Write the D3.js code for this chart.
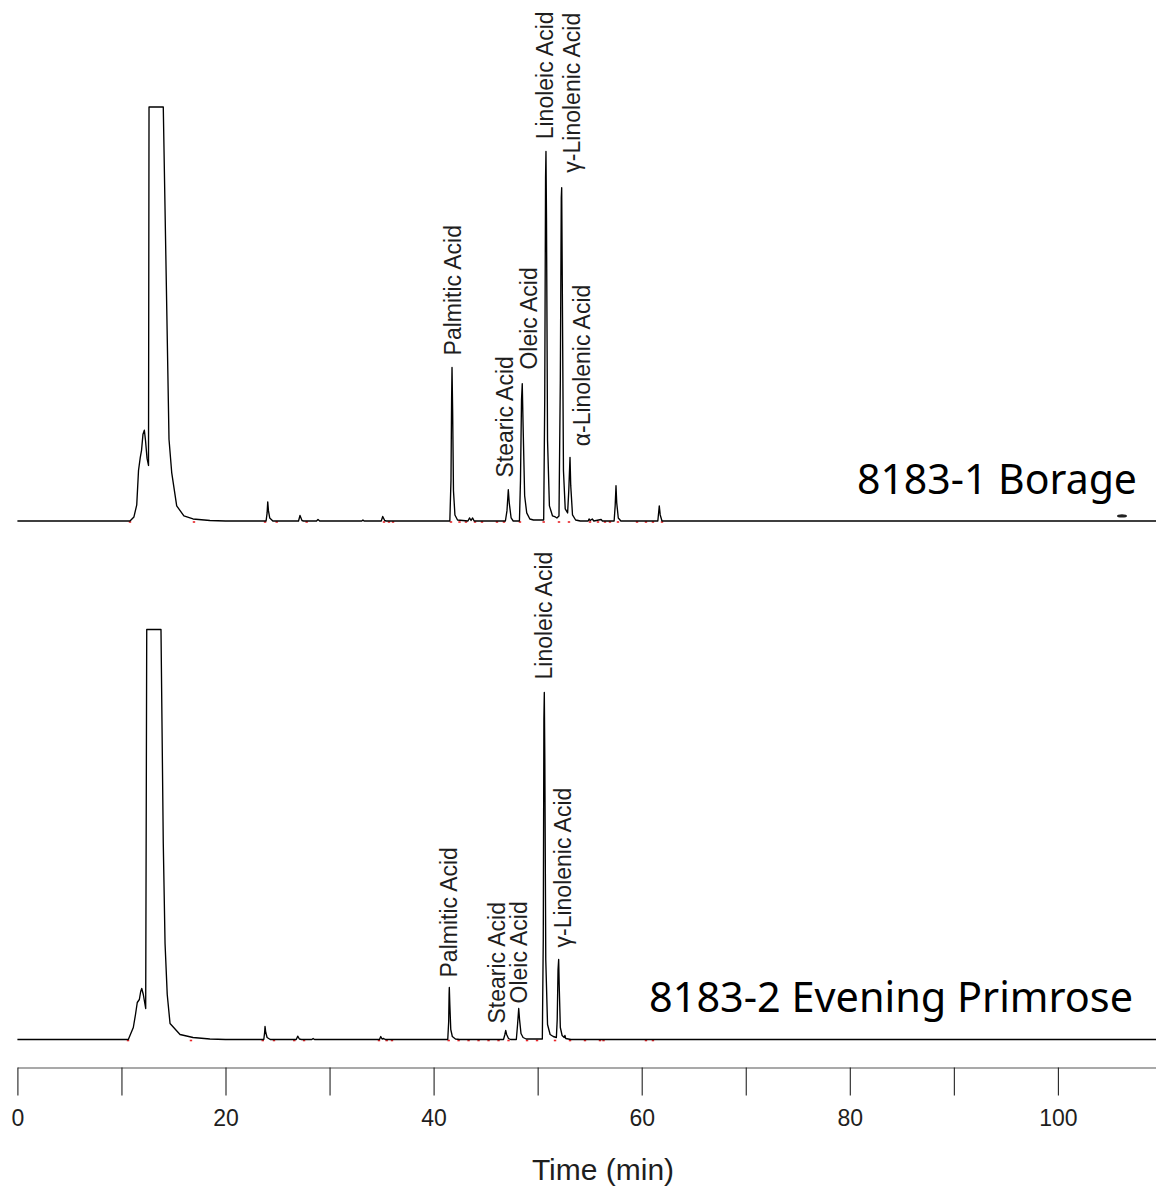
<!DOCTYPE html>
<html>
<head>
<meta charset="utf-8">
<script src="https://cdn.jsdelivr.net/npm/d3@7"></script>
<style>
  body { margin: 0; background: #fff; }
  svg { display: block; }
  text { font-family: "Liberation Sans", Arial, sans-serif; fill: #1e1e1e; }
</style>
</head>
<body>
<svg id="chart"></svg>
<script>
/* GC-FID chromatograms, borage vs evening primrose oil */

// time (min), response
var borageTrace = [
  [0,0],[10.82,0],[11.2,4],[11.47,16],[11.64,50],[11.81,63],[11.93,70],[12.07,86],[12.2,90],[12.31,80],[12.46,62],[12.6,55],
  [12.65,2000],[14.02,2000],[14.57,81],[14.83,48],[15.31,15],[16.0,5],[16.88,2],[18.5,0.5],[20,0],
  [23.9,0],[24.0,8],[24.06,19],[24.13,10],[24.25,3],[24.55,0],
  [27.02,0],[27.16,5.5],[27.35,0.5],[27.5,0],
  [28.75,0],[28.89,1.5],[29.05,0],
  [33.1,0],[33.21,1],[33.32,0],
  [34.97,0],[35.11,4.5],[35.3,0.5],[35.45,0],
  [41.56,0],[41.67,40],[41.73,120],[41.77,152],[41.83,110],[41.91,30],[42.05,6],[42.3,1],
  [43.3,0],[43.45,3],[43.6,0.5],[43.75,3],[43.9,0],
  [46.9,0],[47.05,10],[47.18,31],[47.27,18],[47.45,3],[47.65,0],
  [48.25,0],[48.35,40],[48.45,120],[48.52,136],[48.6,95],[48.75,25],[48.95,8],[49.25,2],[49.6,1],
  [50.58,1],[50.68,120],[50.76,340],[50.8,366],[50.85,300],[50.95,80],[51.13,15],[51.43,5],[51.7,4],[51.85,3],
  [52.05,5],[52.18,140],[52.27,320],[52.31,330],[52.36,250],[52.48,50],[52.65,12],[52.88,8],
  [52.99,30],[53.11,63],[53.18,35],[53.35,6],[53.65,1],[54.1,0],
  [54.85,0],[54.94,2],[55.05,0.5],[55.25,2],[55.4,0],[56.1,1.5],[56.22,0],
  [57.35,0],[57.45,15],[57.53,35],[57.6,18],[57.75,3],[58.0,0],
  [61.55,0],[61.69,15],[61.78,6],[61.95,0],
  [110,0]
];

var primroseTrace = [
  [0,0],[10.66,0],[11.14,12],[11.35,25],[11.52,37],[11.72,40],[11.85,48],[11.95,51],[12.1,45],[12.33,31],
  [12.43,2000],[13.8,2000],[14.02,196],[14.19,96],[14.4,45],[14.67,16],[15.63,5],[16.88,2],[18.5,0.5],[20,0],
  [23.68,0],[23.76,7],[23.8,13],[23.87,7],[24.0,2],[24.3,0],
  [26.8,0],[26.94,3.3],[27.1,0.5],[27.3,0],
  [28.3,0],[28.42,1],[28.55,0],
  [34.8,0],[34.92,3],[35.05,0.5],[35.2,1],[35.35,0],
  [41.36,0],[41.45,18],[41.49,45],[41.51,52],[41.56,35],[41.65,10],[41.8,3],[42.1,0.5],[42.5,0],
  [46.72,0],[46.85,5],[46.93,9],[47.02,5],[47.2,1],[47.4,0],
  [47.95,0],[48.07,15],[48.18,31],[48.26,20],[48.4,6],[48.6,2],[48.9,0.5],
  [50.45,0.5],[50.54,100],[50.6,320],[50.64,347],[50.69,280],[50.78,80],[50.95,15],[51.2,5],[51.5,3],[51.8,2],
  [51.88,20],[51.96,70],[52.02,80],[52.07,55],[52.18,12],[52.35,4],[52.55,2],[52.62,4],[52.7,1],[53.2,0],
  [110,0]
];

var borageName = "8183-1 Borage";
var primroseName = "8183-2 Evening Primrose";

// peak labels: name, label time, response at the label's foot
var borageLabels = ["Palmitic Acid", "Stearic Acid", "Oleic Acid", "Linoleic Acid", "\u03b3-Linolenic Acid", "\u03b1-Linolenic Acid"];
var borageLabelTimes = [41.9, 46.86, 49.2, 50.7, 53.3, 54.26];
var borageLabelResp = [164, 43, 150, 378, 345, 74];

var primroseLabels = ["Palmitic Acid", "Stearic Acid", "Oleic Acid", "Linoleic Acid", "\u03b3-Linolenic Acid"];
var primroseLabelTimes = [41.48, 46.09, 48.2, 50.61, 52.44];
var primroseLabelResp = [62, 16, 36, 360, 92];

// red integration markers along the baseline
var borageMarks = [10.82,16.97,23.8,24.92,27.8,35.23,35.71,36.1,41.67,42.49,43.11,43.98,44.65,46.09,46.76,48.3,50.58,52.05,53.01,55.03,55.8,56.47,56.95,57.72,59.55,60.41,61.08,61.95];
var primroseMarks = [10.63,16.68,23.58,24.66,26.61,27.55,34.75,35.49,36.0,41.45,42.4,43.36,44.32,45.28,46.24,47.2,48.98,49.94,51.67,53.11,54.55,55.99,56.33,60.41,61.08];

var borageBlips = [[106.16, 5]];

var xTicks = d3.range(0, 110, 10);
var xTitle = "Time (min)";

var width = 1156, height = 1186;

var svg = d3.select("#chart")
    .attr("width", width)
    .attr("height", height);

var x = d3.scaleLinear()
    .domain([0, 110])
    .range([17.4, 17.4 + 1144.55]);

var panels = [
  { trace: borageTrace, name: borageName, labels: borageLabels, lt: borageLabelTimes, lr: borageLabelResp,
    marks: borageMarks, blips: borageBlips, base: 521, top: 107, nameX: 1137, nameY: 494, nameSize: 41 },
  { trace: primroseTrace, name: primroseName, labels: primroseLabels, lt: primroseLabelTimes, lr: primroseLabelResp,
    marks: primroseMarks, blips: [], base: 1039.5, top: 629.5, nameX: 1133, nameY: 1012, nameSize: 41.4 }
];

panels.forEach(function(p) {
  var y = d3.scaleLinear()
      .domain([0, 410])
      .range([p.base, p.top])
      .clamp(true);

  var g = svg.append("g");

  // red markers first so the trace sits on top
  g.selectAll(".mark")
    .data(p.marks)
    .enter().append("rect")
      .attr("x", function(d) { return x(d) - 1.2; })
      .attr("y", y(0) + 0.2)
      .attr("width", 2.4)
      .attr("height", 1.6)
      .attr("fill", "#e8262a");

  var line = d3.line()
      .x(function(d) { return x(d[0]); })
      .y(function(d) { return y(d[1]); });

  g.append("path")
    .datum(p.trace)
    .attr("d", line)
    .attr("fill", "none")
    .attr("stroke", "#000")
    .attr("stroke-width", 1.35)
    .attr("stroke-linejoin", "round");

  g.selectAll(".blip")
    .data(p.blips)
    .enter().append("ellipse")
      .attr("cx", function(d) { return x(d[0]); })
      .attr("cy", function(d) { return y(d[1]); })
      .attr("rx", 5)
      .attr("ry", 1.6)
      .attr("fill", "#222");

  g.selectAll(".peak-label")
    .data(p.labels)
    .enter().append("text")
      .attr("transform", function(d, i) {
        return "translate(" + x(p.lt[i]) + "," + y(p.lr[i]) + ") rotate(-90)";
      })
      .attr("dy", "0.35em")
      .attr("font-size", 23)
      .text(function(d) { return d; });

  g.append("text")
    .attr("x", p.nameX)
    .attr("y", p.nameY)
    .attr("text-anchor", "end")
    .attr("font-size", p.nameSize)
    .style("font-family", "'Noto Sans', 'Open Sans', sans-serif")
    .style("fill", "#000")
    .text(p.name);
});

// time axis
var axis = svg.append("g")
    .attr("transform", "translate(0,1067.5)")
    .call(d3.axisBottom(x)
      .tickValues(xTicks)
      .tickSize(28)
      .tickSizeOuter(0)
      .tickPadding(14)
      .tickFormat(function(d) { return d % 20 === 0 ? d : ""; }));

axis.select(".domain").attr("stroke", "#555").attr("stroke-width", 1.2);
axis.selectAll(".tick line").attr("stroke", "#222").attr("stroke-width", 1.1);
axis.selectAll(".tick text")
    .attr("font-size", 23)
    .style("font-family", "'Liberation Sans', Arial, sans-serif")
    .style("fill", "#1e1e1e");

svg.append("text")
    .attr("x", 603)
    .attr("y", 1180)
    .attr("text-anchor", "middle")
    .attr("font-size", 30)
    .text(xTitle);
</script>
</body>
</html>
